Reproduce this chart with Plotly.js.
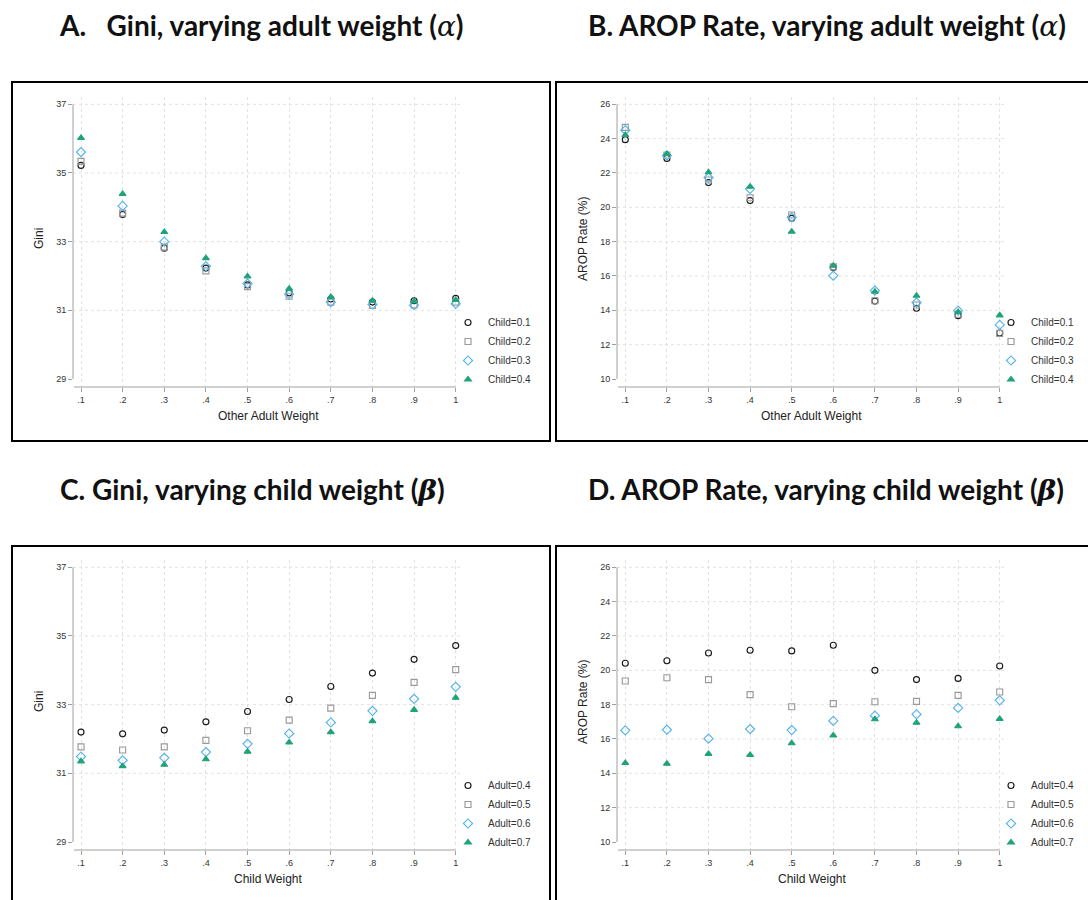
<!DOCTYPE html>
<html>
<head>
<meta charset="utf-8">
<script src="https://cdn.plot.ly/plotly-3.0.1.min.js"></script>
<style>
  html, body { margin: 0; padding: 0; background: #ffffff; }
  #chart { width: 1088px; height: 900px; }
</style>
</head>
<body>
<div id="chart"></div>
<script>
// ---------------- DATA ----------------
const weights = [0.1, 0.2, 0.3, 0.4, 0.5, 0.6, 0.7, 0.8, 0.9, 1.0];
const weightTickText = ['.1', '.2', '.3', '.4', '.5', '.6', '.7', '.8', '.9', '1'];
const giniTicks = [29, 31, 33, 35, 37];
const aropTicks = [10, 12, 14, 16, 18, 20, 22, 24, 26];

const childLabels = ['Child=0.1', 'Child=0.2', 'Child=0.3', 'Child=0.4'];
const adultLabels = ['Adult=0.4', 'Adult=0.5', 'Adult=0.6', 'Adult=0.7'];

// Panel A: Gini, varying other adult weight
const giniAdultChild01 = [35.22, 33.79, 32.81, 32.23, 31.74, 31.51, 31.33, 31.24, 31.28, 31.35];
const giniAdultChild02 = [35.34, 33.83, 32.84, 32.15, 31.69, 31.41, 31.24, 31.14, 31.16, 31.24];
const giniAdultChild03 = [35.61, 34.04, 33.00, 32.28, 31.78, 31.47, 31.24, 31.17, 31.15, 31.19];
const giniAdultChild04 = [36.02, 34.39, 33.28, 32.52, 31.99, 31.63, 31.39, 31.28, 31.26, 31.30];

// Panel B: AROP rate, varying other adult weight
const aropAdultChild01 = [23.94, 22.85, 21.44, 20.39, 19.36, 16.50, 14.54, 14.12, 13.69, 12.68];
const aropAdultChild02 = [24.66, 23.05, 21.59, 20.56, 19.55, 16.54, 14.56, 14.31, 13.77, 12.66];
const aropAdultChild03 = [24.49, 23.01, 21.73, 21.07, 19.42, 16.02, 15.15, 14.45, 13.98, 13.15];
const aropAdultChild04 = [24.21, 23.11, 22.04, 21.20, 18.58, 16.60, 15.09, 14.85, 13.90, 13.71];

// Panel C: Gini, varying child weight
const giniChildAdult04 = [32.20, 32.15, 32.26, 32.50, 32.80, 33.15, 33.53, 33.92, 34.32, 34.72];
const giniChildAdult05 = [31.77, 31.68, 31.77, 31.96, 32.24, 32.55, 32.90, 33.27, 33.65, 34.02];
const giniChildAdult06 = [31.49, 31.38, 31.45, 31.62, 31.86, 32.16, 32.48, 32.82, 33.17, 33.52];
const giniChildAdult07 = [31.35, 31.21, 31.25, 31.41, 31.63, 31.90, 32.20, 32.52, 32.85, 33.20];

// Panel D: AROP rate, varying child weight
const aropChildAdult04 = [20.41, 20.56, 21.01, 21.17, 21.13, 21.46, 20.00, 19.46, 19.53, 20.25];
const aropChildAdult05 = [19.38, 19.57, 19.46, 18.58, 17.88, 18.06, 18.17, 18.19, 18.54, 18.74];
const aropChildAdult06 = [16.50, 16.54, 16.02, 16.58, 16.52, 17.05, 17.36, 17.44, 17.81, 18.25];
const aropChildAdult07 = [14.60, 14.56, 15.13, 15.07, 15.75, 16.21, 17.15, 16.95, 16.74, 17.17];

// ---------------- STYLE / LAYOUT ----------------
const W = 1088, H = 900;
const fx = p => p / W;
const fy = p => 1 - p / H;

const seriesStyles = [
  { symbol: 'circle-open',  color: '#1a1a1a', size: 6 },
  { symbol: 'square-open',  color: '#9a9a9a', size: 6 },
  { symbol: 'diamond-open', color: '#56B4E9', size: 7 },
  { symbol: 'triangle-up',  color: '#1fa37a', size: 6 }
];

// pixel geometry of each panel (plot region, and pixel positions of reference ticks)
const panels = [
  { id: '',  dom: [73, 463, 97, 387],  xa: [81, 455.7],  ya: [379, 104.3], yt: giniTicks, yv: [29, 37],
    series: [giniAdultChild01, giniAdultChild02, giniAdultChild03, giniAdultChild04], names: childLabels,
    legend: 'legend', ytitle: 'Gini', xtitle: 'Other Adult Weight' },
  { id: '2', dom: [617, 1006, 97, 387], xa: [625.3, 999.7], ya: [379, 104.3], yt: aropTicks, yv: [10, 26],
    series: [aropAdultChild01, aropAdultChild02, aropAdultChild03, aropAdultChild04], names: childLabels,
    legend: 'legend2', ytitle: 'AROP Rate (%)', xtitle: 'Other Adult Weight' },
  { id: '3', dom: [73, 463, 560, 850], xa: [81, 455.7],  ya: [842, 567.3], yt: giniTicks, yv: [29, 37],
    series: [giniChildAdult04, giniChildAdult05, giniChildAdult06, giniChildAdult07], names: adultLabels,
    legend: 'legend3', ytitle: 'Gini', xtitle: 'Child Weight' },
  { id: '4', dom: [617, 1006, 560, 850], xa: [625.3, 999.7], ya: [842, 567.3], yt: aropTicks, yv: [10, 26],
    series: [aropChildAdult04, aropChildAdult05, aropChildAdult06, aropChildAdult07], names: adultLabels,
    legend: 'legend4', ytitle: 'AROP Rate (%)', xtitle: 'Child Weight' }
];

const baseFamily = 'Liberation Sans';
const tickFont = { family: baseFamily, size: 9, color: '#333333' };
const titleFont = { family: baseFamily, size: 12, color: '#222222' };
const legendFont = { family: baseFamily, size: 10, color: '#333333' };
const gridColor = '#e2e2e2';

const traces = [];
const layout = {
  width: W, height: H,
  margin: { l: 0, r: 0, t: 0, b: 0 },
  paper_bgcolor: '#ffffff', plot_bgcolor: '#ffffff',
  font: { family: baseFamily },
  showlegend: true,
  shapes: [], annotations: []
};

panels.forEach((p, i) => {
  const [l, r, t, b] = p.dom;
  const kx = (weights[weights.length - 1] - weights[0]) / (p.xa[1] - p.xa[0]);
  const xr = [weights[0] + (l - p.xa[0]) * kx, weights[0] + (r - p.xa[0]) * kx];
  const ky = (p.yv[1] - p.yv[0]) / (p.ya[1] - p.ya[0]);
  const yr = [p.yv[0] + (b - p.ya[0]) * ky, p.yv[0] + (t - p.ya[0]) * ky];

  const xk = 'xaxis' + p.id, yk = 'yaxis' + p.id;
  const xs = 'x' + p.id, ys = 'y' + p.id;
  layout[xk] = {
    domain: [fx(l), fx(r)], range: xr, anchor: ys,
    tickmode: 'array', tickvals: weights, ticktext: weightTickText,
    ticks: 'outside', ticklen: 4, tickwidth: 1, tickcolor: '#a0a0a0',
    showgrid: true, gridcolor: gridColor, griddash: 'dot', gridwidth: 1,
    zeroline: false, showline: false, tickfont: tickFont, fixedrange: true
  };
  layout[yk] = {
    domain: [fy(b), fy(t)], range: yr, anchor: xs,
    tickmode: 'array', tickvals: p.yt,
    ticks: 'outside', ticklen: 4, tickwidth: 1, tickcolor: '#a0a0a0',
    showgrid: false,
    zeroline: false, showline: false, tickfont: tickFont, fixedrange: true
  };
  // horizontal gridlines (none at the lowest tick, as in the original)
  p.yt.slice(1).forEach(v => {
    layout.shapes.push({ type: 'line', layer: 'below', xref: 'paper', yref: ys, x0: fx(l), x1: fx(r),
      y0: v, y1: v, line: { color: gridColor, width: 1, dash: 'dot' } });
  });
  // axis lines
  layout.shapes.push({ type: 'line', xref: 'paper', yref: ys, x0: fx(l), x1: fx(l),
    y0: p.yt[0], y1: p.yt[p.yt.length - 1], line: { color: '#a0a0a0', width: 1 } });
  layout.shapes.push({ type: 'line', xref: xs, yref: 'paper', x0: xr[0] + (1 * kx), x1: weights[weights.length - 1],
    y0: fy(b), y1: fy(b), line: { color: '#a0a0a0', width: 1 } });

  // axis titles
  layout.annotations.push({ xref: 'paper', yref: 'paper', x: fx(l - 34), y: fy((t + b) / 2 - 3),
    text: p.ytitle, showarrow: false, textangle: -90, font: titleFont, xanchor: 'center', yanchor: 'middle' });
  layout.annotations.push({ xref: 'paper', yref: 'paper', x: fx((l + r) / 2), y: fy(b + 29),
    text: p.xtitle, showarrow: false, font: titleFont, xanchor: 'center', yanchor: 'middle' });

  // legend
  layout[p.legend] = {
    x: fx(r + 25 - 40), xanchor: 'left', y: fy(t + 211), yanchor: 'top',
    font: legendFont, bgcolor: 'rgba(0,0,0,0)', borderwidth: 0, tracegroupgap: 0
  };

  p.series.forEach((vals, j) => {
    const st = seriesStyles[j];
    traces.push({
      type: 'scatter', mode: 'markers', x: weights, y: vals,
      xaxis: xs, yaxis: ys, name: p.names[j], legend: p.legend,
      marker: { symbol: st.symbol, size: st.size, color: st.color,
        line: { color: st.color, width: 1.15 } },
      hoverinfo: 'x+y+name'
    });
  });
});

// panel frames
const frames = [[12, 550, 82, 441], [556, 1094, 82, 441], [12, 550, 546, 906], [556, 1094, 546, 906]];
frames.forEach(f => {
  layout.shapes.push({ type: 'rect', xref: 'paper', yref: 'paper', x0: fx(f[0]), x1: fx(f[1]),
    y0: fy(f[3]), y1: fy(f[2]), line: { color: '#000000', width: 2 }, fillcolor: 'rgba(0,0,0,0)' });
});

// panel titles
const headFont = { family: 'Lato', size: 28, color: '#111111' };
const alpha = "<span style=\"font-family:'DejaVu Serif';font-weight:normal\"><i>α</i></span>";
const beta = "<span style=\"font-family:'DejaVu Serif';font-weight:bold\"><i>β</i></span>";
const heads = [
  { x: 57, y: 25, text: '<b>A.\u00a0\u00a0\u00a0Gini, varying adult weight (' + alpha + '<b>)</b></b>' },
  { x: 586, y: 25, text: '<b>B. AROP Rate, varying adult weight (' + alpha + '<b>)</b></b>' },
  { x: 58, y: 489, text: '<b>C. Gini, varying child weight (' + beta + ')</b>' },
  { x: 586, y: 489, text: '<b>D. AROP Rate, varying child weight (' + beta + ')</b>' }
];
heads.forEach(h => {
  layout.annotations.push({ xref: 'paper', yref: 'paper', x: fx(h.x), y: fy(h.y), text: h.text,
    showarrow: false, xanchor: 'left', yanchor: 'middle', font: headFont });
});

Plotly.newPlot('chart', traces, layout, { displayModeBar: false, staticPlot: true });
</script>
</body>
</html>
